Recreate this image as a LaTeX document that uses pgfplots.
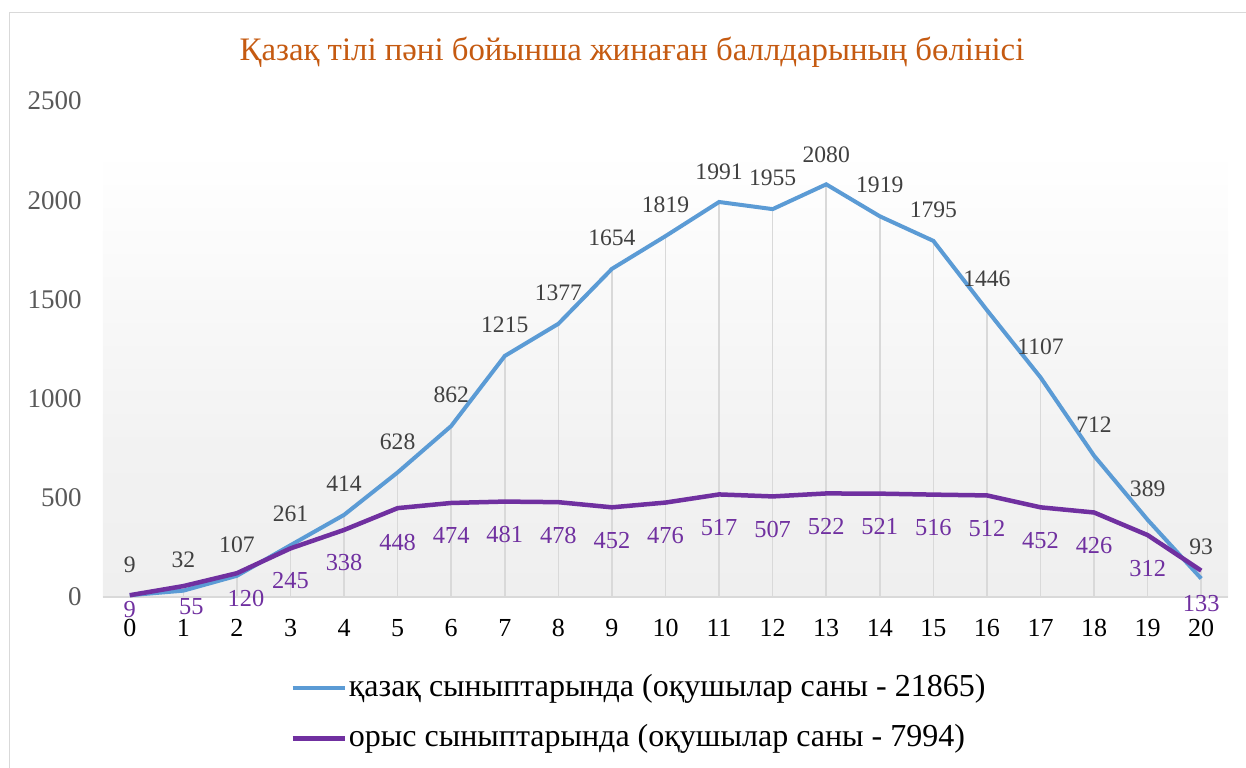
\documentclass[border=0pt]{standalone}
\usepackage{fontspec}
\setmainfont{Liberation Serif}
\usepackage{pgfplots}
\pgfplotsset{compat=1.18}
\usepackage{pgfplotstable}
\definecolor{kaz}{HTML}{5B9BD5}
\definecolor{rus}{HTML}{7030A0}
\definecolor{ttl}{HTML}{C55A11}
\definecolor{bgg}{HTML}{F2F2F2}
\definecolor{bgd}{HTML}{EFEFEF}
\definecolor{grd}{HTML}{D9D9D9}
\definecolor{tickc}{HTML}{595959}
\definecolor{lbl}{HTML}{404040}
\pgfdeclareverticalshading{bgshade}{100bp}{color(0bp)=(bgd); color(25bp)=(bgd); color(40bp)=(bgg); color(70bp)=(white); color(100bp)=(white)}
\pgfplotstableread{
x kaz rus mx kdy rdx rdy
0 9 9 9 15 0 -7
1 32 55 55 15.5 4 -10.5
2 107 120 120 15.5 4.5 -12.5
3 261 245 261 15.5 0 -16
4 414 338 414 15.5 0 -16.5
5 628 448 628 15.5 0 -17
6 862 474 862 15.5 0 -16.5
7 1215 481 1215 15.5 0 -16.5
8 1377 478 1377 15.5 0 -16.5
9 1654 452 1654 15.5 0 -16.5
10 1819 476 1819 15.5 0 -16.5
11 1991 517 1991 15 0 -16.5
12 1955 507 1955 15.5 0 -16.5
13 2080 522 2080 15 0 -16.5
14 1919 521 1919 15.5 0 -16.5
15 1795 516 1795 15.5 0 -16.5
16 1446 512 1446 15.5 0 -16.5
17 1107 452 1107 15.5 0 -16.5
18 712 426 712 15.5 0 -16.5
19 389 312 389 15.5 0 -16.5
20 93 133 133 15.7 0 -16.3
}\data
\begin{document}
\begin{tikzpicture}
\useasboundingbox (-51.5pt,-85pt) rectangle (571.5pt,298.5pt);
\draw[grd, line width=0.75pt] (-46.75pt,-86pt) -- (-46.75pt,292.3pt) -- (572pt,292.3pt);
\begin{axis}[
  at={(0,0)}, anchor=south west,
  scale only axis, width=562.5pt, height=248pt,
  xmin=-0.5, xmax=20.5, ymin=0, ymax=2500,
  xtick={0,...,20}, ytick={0,500,...,2500},
  /pgf/number format/assume math mode=true,
  /pgf/number format/1000 sep={},
  axis x line*=bottom, axis y line*=left,
  x axis line style={draw=grd, line width=0.75pt, -},
  y axis line style={draw=none},
  major tick length=0pt,
  axis background/.style={shading=bgshade},
  clip=false,
  xticklabel style={font=\fontsize{13}{15}\selectfont, text=black, anchor=base, yshift=-19.8pt},
  yticklabel style={font=\fontsize{13.5}{15}\selectfont, text=tickc, anchor=east, inner sep=0pt, xshift=-10.5pt},
  legend style={at={(axis description cs:0.1662,-0.1492)}, anchor=north west, draw=none, fill=none,
    inner sep=0pt, row sep=8pt,
    nodes={inner sep=1pt, text height=11.5pt, text depth=3.5pt, font=\fontsize{16}{18}\selectfont}},
  legend cell align=left,
  legend image code/.code={\draw[#1] (0pt,0pt) -- (26pt,0pt);},
]
\addplot[ycomb, grd, line width=0.75pt, forget plot] table[x=x, y=mx] {\data};
\addplot[kaz, line width=2pt,
  nodes near coords, point meta=explicit,
  visualization depends on={\thisrow{kdy} \as \kdy},
  nodes near coords style={anchor=center, yshift=\kdy pt, text=lbl, font=\fontsize{11.8}{14}\selectfont}]
  table[x=x, y=kaz, meta=kaz] {\data};
\addlegendentry{қазақ сыныптарында (оқушылар саны - 21865)}
\addplot[rus, line width=2.25pt,
  nodes near coords, point meta=explicit,
  visualization depends on={\thisrow{rdy} \as \rdy},
  visualization depends on={\thisrow{rdx} \as \rdx},
  nodes near coords style={anchor=center, yshift=\rdy pt, xshift=\rdx pt, text=rus, font=\fontsize{12.2}{14}\selectfont}]
  table[x=x, y=rus, meta=rus] {\data};
\addlegendentry{орыс сыныптарында (оқушылар саны - 7994)}
\end{axis}
\node[text=ttl, font=\fontsize{16.4}{19}\selectfont, anchor=center] at (264.5pt,272.5pt) {Қазақ тілі пәні бойынша жинаған баллдарының бөлінісі};
\end{tikzpicture}
\end{document}
